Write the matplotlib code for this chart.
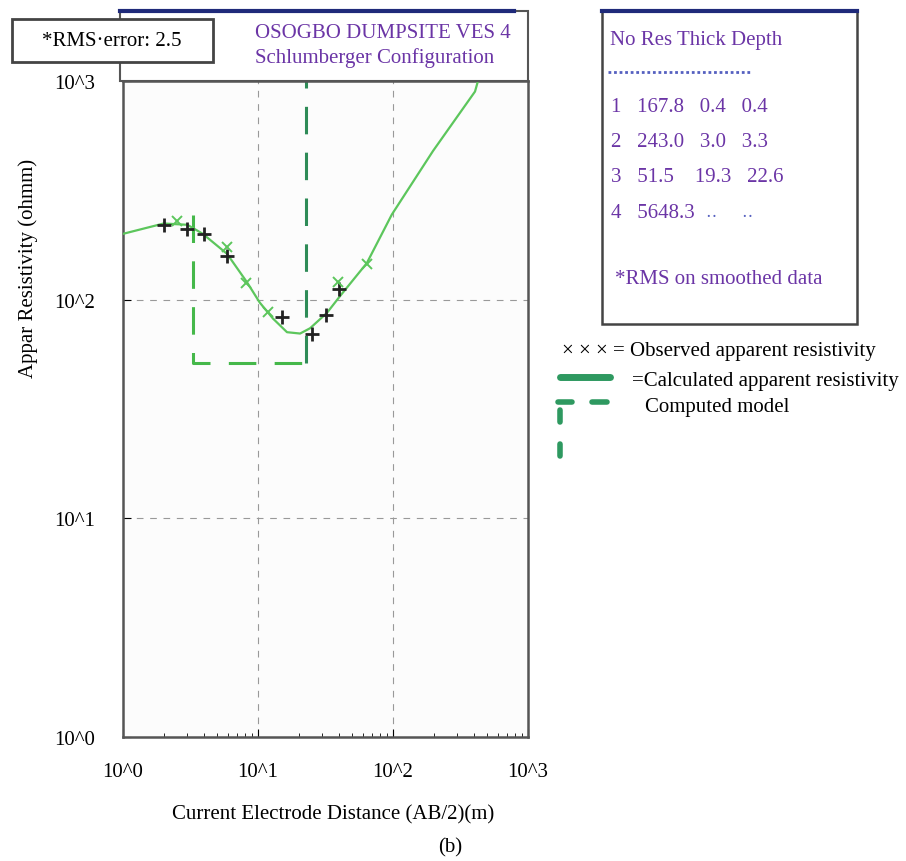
import matplotlib.pyplot as plt
from matplotlib.patches import Rectangle
from matplotlib.lines import Line2D

# calculated apparent resistivity curve
curve_x = [1.0, 2.0, 3.0, 3.9, 5.9, 8.3, 10.3, 12.9, 16.4, 20.5, 24.3, 32.4, 40.6, 64, 98, 198, 405, 426]
curve_y = [200, 223, 220, 200, 162, 120, 97, 82, 71, 70, 74, 87, 104, 147, 245, 479, 895, 1000]

# observed points
obs_plus_x = [2.0, 3.0, 4.0, 5.9, 15.0, 25.1, 31.8, 40]
obs_plus_y = [220, 211, 200, 158, 83, 70, 85, 112]
obs_cross_x = [2.5, 5.9, 8.2, 11.8, 39, 64]
obs_cross_y = [229, 175, 119, 88, 120, 146]

# computed model (layer boundaries)
model_x = [3.3, 3.3, 22.6, 22.6]
model_y = [243.0, 51.5, 51.5, 5648.3]

table_rows = ["1   167.8   0.4   0.4",
              "2   243.0   3.0   3.3",
              "3   51.5    19.3   22.6",
              "4   5648.3"]

W, H = 906, 862
fx = lambda px: px / W
fy = lambda py: 1 - py / H

plt.rcParams['font.family'] = ['Liberation Serif', 'DejaVu Serif']
FS = 15
purple = '#6B35A6'
navy = '#1F2A7A'
curve_col = '#5CC65C'
model_col = '#45B84A'
model_dark = '#2E8B57'
leg_green = '#2E9960'

fig = plt.figure(figsize=(W / 100, H / 100), dpi=100)

# top frame above the plot
fig.patches.append(Rectangle((fx(120), fy(82)), fx(528) - fx(120), fy(12) - fy(82),
                             transform=fig.transFigure, fill=False, ec='#555555', lw=1.5))
fig.add_artist(Line2D([fx(120), fx(514)], [fy(12), fy(12)], color=navy, lw=3,
                      transform=fig.transFigure))

ax = fig.add_axes([fx(123), fy(738), fx(528) - fx(123), fy(82) - fy(738)])
ax.set_facecolor('#FCFCFC')
ax.set_xscale('log')
ax.set_yscale('log')
ax.set_xlim(1, 1000)
ax.set_ylim(1, 1000)

ax.plot(curve_x, curve_y, color=curve_col, lw=1.6, zorder=3)
ax.plot(model_x[:3], model_y[:3], color=model_col, lw=2.2, dashes=(9, 6), zorder=2)
ax.plot(model_x[2:], model_y[2:], color=model_dark, lw=2.2, dashes=(9, 6), zorder=2)
ax.plot(obs_plus_x, obs_plus_y, '+', color='#222222', ms=10, mew=2, zorder=4)
ax.plot(obs_cross_x, obs_cross_y, 'x', color=curve_col, ms=7, mew=1.4, zorder=4)

for v in [10, 100]:
    ax.axvline(v, color='#999999', lw=0.8, dashes=(6, 6), zorder=1)
    ax.axhline(v, color='#999999', lw=0.8, dashes=(6, 6), zorder=1)

ax.set_xticks([1, 10, 100, 1000])
ax.set_xticklabels(['10^0', '10^1', '10^2', '10^3'], fontsize=FS)
ax.set_yticks([1, 10, 100, 1000])
ax.set_yticklabels(['10^0', '10^1', '10^2', '10^3'], fontsize=FS)
ax.tick_params(axis='x', which='major', direction='in', length=6, pad=18)
ax.tick_params(axis='y', which='major', direction='in', length=6, pad=20)
ax.tick_params(which='minor', direction='in', length=3)
ax.tick_params(axis='y', which='minor', length=0)
for s in ax.spines.values():
    s.set_color('#555555')
    s.set_linewidth(1.8)

fig.text(fx(333), fy(815), 'Current Electrode Distance (AB/2)(m)', fontsize=FS,
         ha='center', va='center')
fig.text(fx(450), fy(848), '(b)', fontsize=FS, ha='center', va='center')
fig.text(fx(28), fy(268), 'Appar Resistivity (ohmm)', fontsize=FS, rotation=90,
         ha='center', va='center')

# RMS box and title
fig.patches.append(Rectangle((fx(12), fy(63)), fx(213) - fx(12), fy(20) - fy(63),
                             transform=fig.transFigure, fc='white', ec='#444444', lw=2,
                             zorder=5))
fig.text(fx(112), fy(42), '*RMS\u00b7error: 2.5', fontsize=FS, ha='center', va='center',
         zorder=6)
fig.patches.append(Rectangle((fx(250), fy(79)), fx(515) - fx(250), fy(20) - fy(79),
                             transform=fig.transFigure, fc='white', ec='none', zorder=5))
fig.text(fx(255), fy(33), 'OSOGBO DUMPSITE VES 4', fontsize=FS, color=purple,
         ha='left', va='center', zorder=6)
fig.text(fx(255), fy(58), 'Schlumberger Configuration', fontsize=FS, color=purple,
         ha='left', va='center', zorder=6)

# model table panel
fig.patches.append(Rectangle((fx(602), fy(325)), fx(857) - fx(602), fy(12) - fy(325),
                             transform=fig.transFigure, fc='white', ec='#444444', lw=1.8))
fig.add_artist(Line2D([fx(602), fx(857)], [fy(12), fy(12)], color=navy, lw=3,
                      transform=fig.transFigure))
fig.text(fx(610), fy(40), 'No Res Thick Depth', fontsize=FS, color=purple,
         ha='left', va='center')
fig.add_artist(Line2D([fx(608), fx(752)], [fy(73), fy(73)], color='#5560C0', lw=2,
                      ls=(0, (1, 1)), transform=fig.transFigure))
for i, row in enumerate(table_rows):
    fig.text(fx(611), fy(107 + 35.5 * i), row, fontsize=FS, color=purple,
             ha='left', va='center')
fig.text(fx(706), fy(213), '\u2024\u2024      \u2024\u2024', fontsize=12, color='#5560C0',
         ha='left', va='center')
fig.text(fx(615), fy(280), '*RMS on smoothed data', fontsize=FS, color=purple,
         ha='left', va='center')

# legend
fig.text(fx(562), fy(352), '\u00d7 \u00d7 \u00d7 = Observed apparent resistivity',
         fontsize=FS, ha='left', va='center')
fig.add_artist(Line2D([fx(560), fx(610)], [fy(378), fy(378)], color=leg_green, lw=5,
                      solid_capstyle='round', transform=fig.transFigure))
fig.text(fx(632), fy(382), '=Calculated apparent resistivity', fontsize=FS,
         ha='left', va='center')
for seg in [([558, 572], [403, 403]), ([592, 607], [403, 403]),
            ([560, 560], [411, 423]), ([560, 560], [445, 457])]:
    fig.add_artist(Line2D([fx(seg[0][0]), fx(seg[0][1])], [fy(seg[1][0]), fy(seg[1][1])],
                          color=leg_green, lw=4, solid_capstyle='round',
                          transform=fig.transFigure))
fig.text(fx(645), fy(408), 'Computed model', fontsize=FS, ha='left', va='center')

plt.savefig('out.png', dpi=100)
